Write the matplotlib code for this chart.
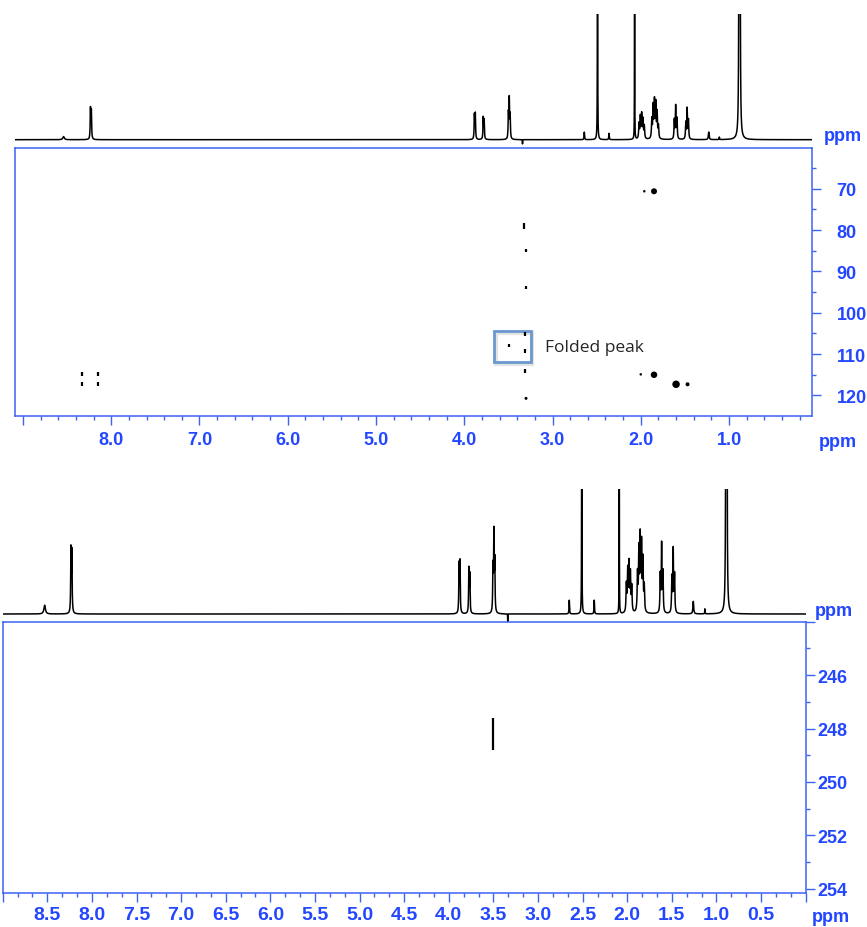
import numpy as np
import matplotlib.pyplot as plt
from matplotlib.patches import Rectangle
from matplotlib.ticker import MultipleLocator, FuncFormatter
import matplotlib.patheffects as pe

# --- 1D proton spectra: peak list (ppm, height, half width) ---
top_shift = [8.54, 8.235, 8.225, 3.885, 3.875, 3.785, 3.775, 3.50, 3.49, 3.48, 3.34,
             2.64, 2.49, 2.36, 2.07,
             2.02, 2.005, 1.99, 1.975, 1.96,
             1.875, 1.86, 1.845, 1.83, 1.815, 1.80,
             1.62, 1.605, 1.59, 1.49, 1.475, 1.46,
             1.23, 1.11, 0.886, 0.876]
top_height = [0.025, 0.24, 0.22, 0.19, 0.2, 0.17, 0.15, 0.2, 0.31, 0.18, -0.035,
              0.06, 3.0, 0.05, 3.0,
              0.12, 0.17, 0.19, 0.15, 0.1,
              0.15, 0.25, 0.29, 0.27, 0.2, 0.1,
              0.15, 0.26, 0.16, 0.13, 0.24, 0.15,
              0.06, 0.02, 2.5, 2.5]
top_width = [0.01, 0.0035, 0.0035, 0.0035, 0.0035, 0.0035, 0.0035, 0.0035, 0.0035, 0.0035, 0.001,
             0.003, 0.0015, 0.003, 0.001,
             0.0045, 0.0045, 0.0045, 0.0045, 0.0045,
             0.0045, 0.0045, 0.0045, 0.0045, 0.0045, 0.0045,
             0.004, 0.004, 0.004, 0.004, 0.004, 0.004,
             0.005, 0.002, 0.0035, 0.0035]

bot_shift = [8.53, 8.235, 8.225, 3.885, 3.875, 3.775, 3.765, 3.505, 3.495, 3.485, 3.34,
             2.65, 2.51, 2.37, 2.09,
             2.01, 1.995, 1.98, 1.965, 1.95,
             1.885, 1.87, 1.855, 1.84, 1.825, 1.81,
             1.63, 1.615, 1.60, 1.50, 1.485, 1.47,
             1.26, 1.13, 0.894, 0.884]
bot_height = [0.07, 0.5, 0.48, 0.38, 0.40, 0.35, 0.3, 0.35, 0.62, 0.4, -0.06,
              0.11, 3.0, 0.11, 3.0,
              0.22, 0.33, 0.38, 0.3, 0.2,
              0.3, 0.48, 0.58, 0.52, 0.4, 0.2,
              0.3, 0.54, 0.32, 0.28, 0.50, 0.3,
              0.10, 0.04, 2.5, 2.5]
bot_width = top_width

# --- 2D cross peaks: top panel (1H ppm, X ppm) ---
dot_x = [1.96, 1.85, 3.30, 2.00, 1.85, 1.60, 1.47]
dot_y = [70.6, 70.6, 120.7, 114.9, 115.0, 117.3, 117.3]
dot_d = [2.5, 6, 3, 2.5, 6.5, 7.5, 4]          # diameter, px
dash_x = [3.32, 3.30, 3.30, 3.31, 3.31, 3.49, 3.31, 8.33, 8.33, 8.15, 8.15]
dash_y = [79.0, 84.8, 93.8, 105.2, 109.2, 107.8, 114.0, 114.8, 117.3, 114.8, 117.3]
dash_l = [6, 3, 3, 4, 4, 3, 4, 4, 4, 4, 4]      # length, px

# bottom panel: one streak
streak_x = [3.50]
streak_y0 = [247.62]
streak_y1 = [248.8]

# folded peak annotation box (ppm)
fold_x = [3.66, 3.245]
fold_y = [104.4, 111.9]

W, H = 867, 928
BLUE = '#2346ff'
FRAME = '#3b62f2'
TF = dict(family='Liberation Sans', weight='bold', color=BLUE)

def box(l, t, r, b):
    return [l / W, 1 - b / H, (r - l) / W, (b - t) / H]

def spectrum(x, shifts, heights, widths):
    y = np.zeros_like(x)
    for s, h, w in zip(shifts, heights, widths):
        y += h * w**2 / ((x - s)**2 + w**2)
    return y

fig = plt.figure(figsize=(W / 100, H / 100), dpi=100)

def style2d(ax, minor_x, major_y, minor_y, blank_x, blank_y, xpad, ypad, xsize):
    for sp in ax.spines.values():
        sp.set_color(FRAME)
        sp.set_linewidth(1.1)
    ax.yaxis.tick_right()
    ax.xaxis.set_major_locator(MultipleLocator(minor_x[0]))
    ax.xaxis.set_minor_locator(MultipleLocator(minor_x[1]))
    ax.yaxis.set_major_locator(MultipleLocator(major_y))
    ax.yaxis.set_minor_locator(MultipleLocator(minor_y))
    ax.xaxis.set_major_formatter(FuncFormatter(
        lambda v, p: '' if any(abs(v - b) < 1e-6 for b in blank_x) else '%.1f' % v))
    ax.yaxis.set_major_formatter(FuncFormatter(
        lambda v, p: '' if any(abs(v - b) < 1e-6 for b in blank_y) else '%d' % round(v)))
    ax.tick_params(which='both', direction='out', color=FRAME, width=1.0)
    ax.tick_params(which='major', length=6.7)
    ax.tick_params(which='minor', length=2.8)
    ax.tick_params(axis='x', pad=xpad, labelsize=xsize, labelcolor=BLUE)
    ax.tick_params(axis='y', pad=ypad, labelsize=13, labelcolor=BLUE)
    for lab in ax.get_xticklabels() + ax.get_yticklabels():
        lab.set_fontfamily('Liberation Sans')
        lab.set_fontweight('bold')

# ---------------- top block ----------------
xt = np.linspace(9.09, 0.06, 16000)
ax1 = fig.add_axes(box(15, 15, 812, 150))
ax1.plot(xt, spectrum(xt, top_shift, top_height, top_width), color='black', lw=1.1)
ax1.set_xlim(9.09, 0.06)
ax1.set_ylim(-0.074, 1.0)
ax1.axis('off')
ax1.patch.set_alpha(0)

ax2 = fig.add_axes(box(15, 149.3, 812, 416.7))
ax2.scatter(dot_x, dot_y, s=[(0.72 * d)**2 for d in dot_d], color='black', lw=0)
for x, y, l in zip(dash_x, dash_y, dash_l):
    ax2.plot([x], [y], marker='|', ms=l * 0.72, mew=1.6, color='black')
ax2.set_xlim(9.09, 0.06)
ax2.set_ylim(124.9, 60.2)
rect = Rectangle((fold_x[1], fold_y[0]), fold_x[0] - fold_x[1], fold_y[1] - fold_y[0],
                 fill=False, edgecolor='#6b97cf', lw=2.0,
                 path_effects=[pe.SimpleLineShadow(offset=(1, -1.5), shadow_color='#b0b0b0', alpha=0.35, linewidth=3),
                               pe.Normal()])
ax2.add_patch(rect)
ax2.text(3.08, 108.2, 'Folded peak', family='Open Sans', fontsize=12.5, color='#262626',
         va='center', ha='left')
style2d(ax2, (1.0, 0.2), 10, 5, [9.0], [60.0], 4.5, 11, 13)
ax2.set_zorder(1)
ax1.set_zorder(2)

fig.text(824 / W, 1 - 136.7 / H, 'ppm', ha='left', va='center', fontsize=13, **TF)
fig.text(819 / W, 1 - 442.5 / H, 'ppm', ha='left', va='center', fontsize=13, **TF)

# ---------------- bottom block ----------------
xb = np.linspace(9.0, 0.0, 16000)
ax3 = fig.add_axes(box(2.7, 490, 805.7, 628))
ax3.plot(xb, spectrum(xb, bot_shift, bot_height, bot_width), color='black', lw=1.1)
ax3.set_xlim(9.0, 0.0)
ax3.set_ylim(-0.104, 1.0)
ax3.axis('off')
ax3.patch.set_alpha(0)

ax4 = fig.add_axes(box(2.7, 622.7, 805.7, 894))
ax4.vlines(streak_x, streak_y0, streak_y1, color='black', lw=1.6)
ax4.set_xlim(9.0, 0.0)
ax4.set_ylim(254.16, 244.0)
style2d(ax4, (0.5, 0.5 / 3), 2, 1, [9.0, 0.0], [244.0], 2.5, 1.5, 14)
ax4.set_zorder(1)
ax3.set_zorder(2)

fig.text(815 / W, 1 - 611.7 / H, 'ppm', ha='left', va='center', fontsize=13, **TF)
fig.text(812 / W, 1 - 917.5 / H, 'ppm', ha='left', va='center', fontsize=13, **TF)

plt.savefig('out.png', dpi=100)
